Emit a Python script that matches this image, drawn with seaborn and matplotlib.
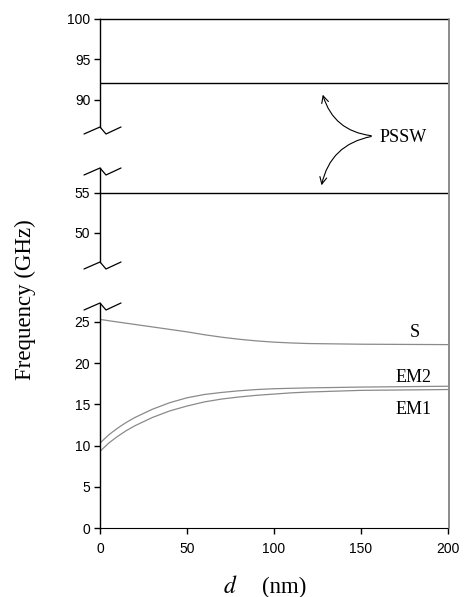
import numpy as np
import pandas as pd
import matplotlib
matplotlib.use("Agg")
import matplotlib.pyplot as plt
from matplotlib.lines import Line2D
from matplotlib.patches import FancyArrowPatch
import seaborn as sns

# 讀取的數據 (d in nm, frequency in GHz)
d_nm = [0, 2, 5, 10, 15, 20, 25, 30, 40, 50, 60, 70, 80, 90, 100, 110, 120, 150, 200]
freq_s = [25.3, 25.25, 25.15, 25.0, 24.85, 24.7, 24.55, 24.4, 24.1, 23.8, 23.45, 23.15,
          22.9, 22.7, 22.55, 22.45, 22.38, 22.3, 22.25]
freq_em2 = [10.3, 10.7, 11.3, 12.1, 12.8, 13.4, 13.9, 14.4, 15.2, 15.8, 16.2, 16.45,
            16.65, 16.8, 16.9, 16.95, 17.0, 17.1, 17.2]
freq_em1 = [9.3, 9.7, 10.3, 11.1, 11.8, 12.4, 12.9, 13.4, 14.2, 14.8, 15.3, 15.65,
            15.9, 16.1, 16.25, 16.4, 16.5, 16.7, 16.8]
pssw_freqs = [92.0, 55.0]

sns.set_style("ticks", {'axes.edgecolor': 'black', 'text.color': 'black',
                        'xtick.color': 'black', 'ytick.color': 'black',
                        'axes.labelcolor': 'black'})
plt.rcParams['font.family'] = ['Liberation Sans', 'DejaVu Sans']
serif = ['Liberation Serif', 'DejaVu Serif']

W, H = 465, 597
fig = plt.figure(figsize=(W / 100, H / 100), dpi=100)

left = 100 / W
width = (448 - 100) / W

def px_box(top_px, bot_px):
    return [left, 1 - bot_px / H, width, (bot_px - top_px) / H]

ax_top = fig.add_axes(px_box(19, 127))
ax_mid = fig.add_axes(px_box(168, 262))
ax_bot = fig.add_axes(px_box(303, 528))

ax_top.set_ylim(86.6, 100)
ax_mid.set_ylim(46.3, 58.1)
ax_bot.set_ylim(0, 27.3)

ax_top.set_yticks([90, 95, 100])
ax_mid.set_yticks([50, 55])
ax_bot.set_yticks([0, 5, 10, 15, 20, 25])

# 三段座標軸的外框
for ax in [ax_top, ax_mid, ax_bot]:
    ax.set_xlim(0, 200)
    ax.set_facecolor('none')
    ax.spines['right'].set_visible(False)
    ax.spines['left'].set_linewidth(1.0)
    ax.tick_params(axis='y', direction='out', length=4, width=1, labelsize=10, pad=3)

for ax in [ax_top, ax_mid]:
    ax.spines['bottom'].set_visible(False)
    ax.tick_params(axis='x', which='both', bottom=False, labelbottom=False)
ax_mid.spines['top'].set_visible(False)
ax_bot.spines['top'].set_visible(False)
ax_top.spines['top'].set_linewidth(1.0)

ax_bot.set_xticks([0, 50, 100, 150, 200])
ax_bot.tick_params(axis='x', direction='out', length=4, width=1, labelsize=10, pad=6)

# PSSW 水平線
ax_top.axhline(pssw_freqs[0], color='black', lw=1.0)
ax_mid.axhline(pssw_freqs[1], color='black', lw=1.0)

# 色散曲線
curve_color = '#8a8a8a'
sns.lineplot(x=d_nm, y=freq_s, ax=ax_bot, color=curve_color, lw=0.9)
sns.lineplot(x=d_nm, y=freq_em2, ax=ax_bot, color=curve_color, lw=0.9)
sns.lineplot(x=d_nm, y=freq_em1, ax=ax_bot, color=curve_color, lw=0.9)
ax_bot.set_xlabel('')
ax_bot.set_ylabel('')

ax_bot.text(181, 23.7, 'S', family=serif, fontsize=13, ha='center', va='center')
ax_bot.text(180, 18.3, 'EM2', family=serif, fontsize=13, ha='center', va='center')
ax_bot.text(180, 14.4, 'EM1', family=serif, fontsize=13, ha='center', va='center')

# 斷軸記號
zig = [(-16, -7), (0, 0), (6, -7), (21, 0)]
for ypx in [127, 168, 262, 303]:
    xs = [(100 + dx) / W for dx, dy in zig]
    ys = [1 - (ypx - dy) / H for dx, dy in zig]
    fig.add_artist(Line2D(xs, ys, transform=fig.transFigure, color='black', lw=0.9))

# 右側邊框
fig.add_artist(Line2D([448.5 / W, 448.5 / W], [1 - 19 / H, 1 - 528 / H],
                      transform=fig.transFigure, color='#777777', lw=1.2))

# PSSW 標註與箭頭
fig.text(380 / W, 1 - 137 / H, 'PSSW', family=serif, fontsize=13, ha='left', va='center')
start = (374 / W, 1 - 136 / H)
for tip, rad in [((322 / W, 1 - 92 / H), -0.35), ((321 / W, 1 - 188 / H), 0.35)]:
    arr = FancyArrowPatch(start, tip, transform=fig.transFigure,
                          connectionstyle=f'arc3,rad={rad}', arrowstyle='->,head_length=5,head_width=2.5',
                          color='black', lw=0.8, mutation_scale=1)
    fig.add_artist(arr)

# 座標軸標題
fig.text(25 / W, 1 - 300 / H, 'Frequency (GHz)', family=serif, fontsize=16.5,
         rotation=90, ha='center', va='center')
fig.text(230 / W, 1 - 587 / H, '$d$', fontsize=17, ha='center', va='center',
         math_fontfamily='stix')
fig.text(284 / W, 1 - 587 / H, '(nm)', family=serif, fontsize=16.5, ha='center', va='center')

fig.savefig('out.png', dpi=100)
